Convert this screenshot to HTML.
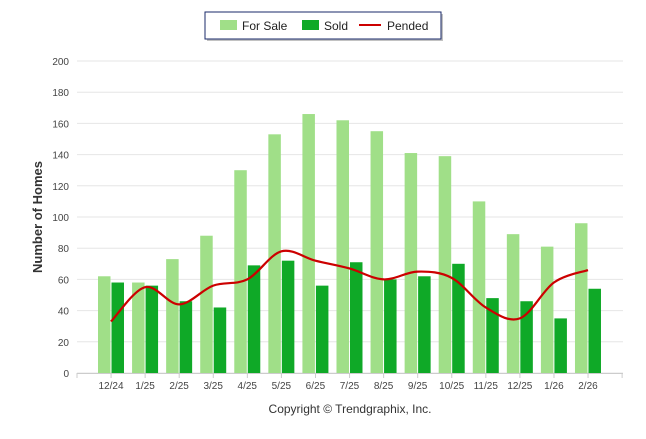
<!DOCTYPE html>
<html><head><meta charset="utf-8"><style>
body{margin:0;background:#fff;width:646px;height:434px;overflow:hidden;font-family:"Liberation Sans",sans-serif}
</style></head><body>
<svg width="646" height="434" xmlns="http://www.w3.org/2000/svg">
<g>
<rect x="207" y="14" width="236" height="27" fill="#999" opacity="0.6"/>
<rect x="205" y="12" width="236" height="27" fill="#fff" stroke="#1a2a6a" stroke-width="1"/>
<g><rect x="220" y="20" width="17" height="10" fill="#a0df88"/><text x="242" y="30" font-size="12" fill="#222">For Sale</text></g>
<g><rect x="302" y="20" width="17" height="10" fill="#0fa927"/><text x="324" y="30" font-size="12" fill="#222">Sold</text></g>
<g><line x1="359" y1="25" x2="381" y2="25" stroke="#c00" stroke-width="2"/><text x="387" y="30" font-size="12" fill="#222">Pended</text></g>
</g>
<g id="grid"></g><g id="bars"></g><g id="line"></g><g id="axes"></g>
<text transform="translate(42,217) rotate(-90)" text-anchor="middle" font-size="13" font-weight="bold" fill="#333">Number of Homes</text>
<text x="350" y="413" text-anchor="middle" font-size="12" fill="#333">Copyright © Trendgraphix, Inc.</text>
</svg>
<script>
const categories=["12/24","1/25","2/25","3/25","4/25","5/25","6/25","7/25","8/25","9/25","10/25","11/25","12/25","1/26","2/26"];
const forSale=[62,58,73,88,130,153,166,162,155,141,139,110,89,81,96];
const sold=[58,56,46,42,69,72,56,71,60,62,70,48,46,35,54];
const pended=[33,55,44,56,60,78,72,67,60,65,61,42,35,58,66];
const yTicks=[0,20,40,60,80,100,120,140,160,180,200];
const NS="http://www.w3.org/2000/svg";
const y=v=>373-v*1.56;
const step=34.07;
const x=i=>111+i*step;
function mk(t,a,p){const e=document.createElementNS(NS,t);for(const k in a)e.setAttribute(k,a[k]);p.appendChild(e);return e;}
const grid=document.getElementById('grid'),bars=document.getElementById('bars'),line=document.getElementById('line'),axes=document.getElementById('axes');
yTicks.forEach(t=>{
 const g=mk('line',{x1:77,x2:623,y1:y(t),y2:y(t),stroke:'#e6e6e6','stroke-width':1},grid);
 
 
 const l=mk('text',{x:69,y:y(t)+4,'text-anchor':'end','font-size':10,fill:'#444'},axes);
 l.textContent=t;
 
 
});
mk('line',{x1:77,x2:623,y1:373.5,y2:373.5,stroke:'#ccc'},axes);
for(let i=0;i<=16;i++){mk('line',{x1:77+i*step,x2:77+i*step,y1:373,y2:378,stroke:'#ccc'},axes);}
categories.forEach((c,i)=>{
 const a=mk('rect',{x:x(i)-13,y:y(forSale[i]),width:12.5,height:forSale[i]*1.56,fill:'#a0df88'},bars);
 
 
 const b=mk('rect',{x:x(i)+0.5,y:y(sold[i]),width:12.5,height:sold[i]*1.56,fill:'#0fa927'},bars);
 
 
 const t=mk('text',{x:x(i),y:389,'text-anchor':'middle','font-size':10,fill:'#444'},axes);
 t.textContent=c;
 
 
});
const pts=pended.map((v,i)=>[x(i),y(v)]);
let d='M'+pts[0][0]+','+pts[0][1];
for(let i=0;i<pts.length-1;i++){
 const p0=pts[i-1]||pts[i],p1=pts[i],p2=pts[i+1],p3=pts[i+2]||p2;
 const c1=[p1[0]+(p2[0]-p0[0])/6,p1[1]+(p2[1]-p0[1])/6],c2=[p2[0]-(p3[0]-p1[0])/6,p2[1]-(p3[1]-p1[1])/6];
 d+=` C${c1[0]},${c1[1]} ${c2[0]},${c2[1]} ${p2[0]},${p2[1]}`;
}
const pl=mk('path',{d:d,fill:'none',stroke:'#c00','stroke-width':2.2},line);


</script>
</body></html>
